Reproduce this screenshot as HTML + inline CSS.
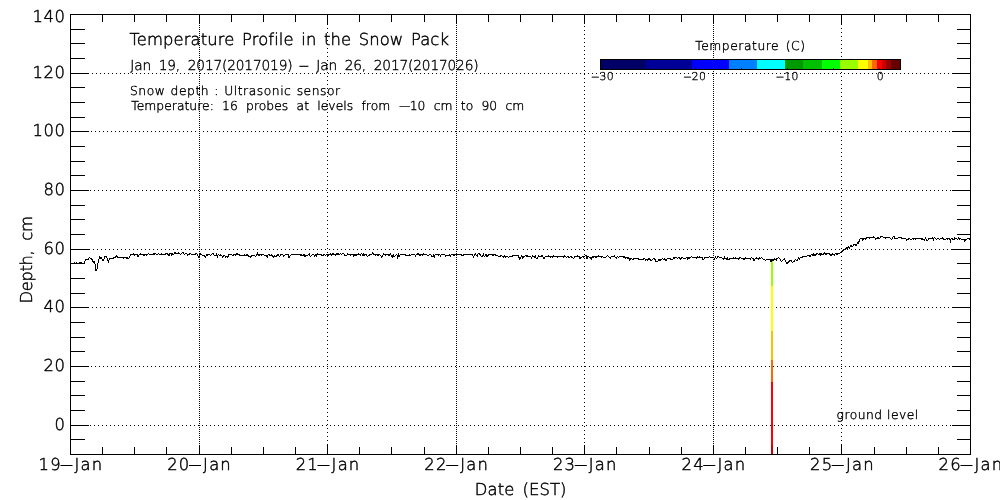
<!DOCTYPE html>
<html lang="en"><head><meta charset="utf-8"><title>Temperature Profile in the Snow Pack</title>
<style>
html,body{margin:0;padding:0;background:#fff}
body{width:1000px;height:500px;position:relative;overflow:hidden}
svg{position:absolute;left:0;top:0;display:block}
text{font-family:"DejaVu Sans Light","DejaVu Sans ExtraLight","DejaVu Sans","Liberation Sans",sans-serif;font-weight:200;
fill:#000;stroke:#000;stroke-width:0.45px;white-space:pre;text-rendering:geometricPrecision}
</style></head><body>
<svg width="1000" height="500" viewBox="0 0 1000 500">
<g shape-rendering="crispEdges">
<rect x="70" y="14" width="901" height="1" fill="#000"/>
<rect x="70" y="454" width="901" height="1" fill="#000"/>
<rect x="70" y="14" width="1" height="441" fill="#000"/>
<rect x="970" y="14" width="1" height="441" fill="#000"/>
<rect x="70" y="454" width="15" height="1" fill="#000"/>
<rect x="957" y="454" width="14" height="1" fill="#000"/>
<rect x="70" y="439" width="15" height="1" fill="#000"/>
<rect x="957" y="439" width="14" height="1" fill="#000"/>
<rect x="70" y="425" width="19" height="1" fill="#000"/>
<rect x="952" y="425" width="19" height="1" fill="#000"/>
<rect x="70" y="410" width="15" height="1" fill="#000"/>
<rect x="957" y="410" width="14" height="1" fill="#000"/>
<rect x="70" y="395" width="15" height="1" fill="#000"/>
<rect x="957" y="395" width="14" height="1" fill="#000"/>
<rect x="70" y="381" width="15" height="1" fill="#000"/>
<rect x="957" y="381" width="14" height="1" fill="#000"/>
<rect x="70" y="366" width="19" height="1" fill="#000"/>
<rect x="952" y="366" width="19" height="1" fill="#000"/>
<rect x="70" y="351" width="15" height="1" fill="#000"/>
<rect x="957" y="351" width="14" height="1" fill="#000"/>
<rect x="70" y="337" width="15" height="1" fill="#000"/>
<rect x="957" y="337" width="14" height="1" fill="#000"/>
<rect x="70" y="322" width="15" height="1" fill="#000"/>
<rect x="957" y="322" width="14" height="1" fill="#000"/>
<rect x="70" y="307" width="19" height="1" fill="#000"/>
<rect x="952" y="307" width="19" height="1" fill="#000"/>
<rect x="70" y="293" width="15" height="1" fill="#000"/>
<rect x="957" y="293" width="14" height="1" fill="#000"/>
<rect x="70" y="278" width="15" height="1" fill="#000"/>
<rect x="957" y="278" width="14" height="1" fill="#000"/>
<rect x="70" y="263" width="15" height="1" fill="#000"/>
<rect x="957" y="263" width="14" height="1" fill="#000"/>
<rect x="70" y="249" width="19" height="1" fill="#000"/>
<rect x="952" y="249" width="19" height="1" fill="#000"/>
<rect x="70" y="234" width="15" height="1" fill="#000"/>
<rect x="957" y="234" width="14" height="1" fill="#000"/>
<rect x="70" y="219" width="15" height="1" fill="#000"/>
<rect x="957" y="219" width="14" height="1" fill="#000"/>
<rect x="70" y="205" width="15" height="1" fill="#000"/>
<rect x="957" y="205" width="14" height="1" fill="#000"/>
<rect x="70" y="190" width="19" height="1" fill="#000"/>
<rect x="952" y="190" width="19" height="1" fill="#000"/>
<rect x="70" y="175" width="15" height="1" fill="#000"/>
<rect x="957" y="175" width="14" height="1" fill="#000"/>
<rect x="70" y="161" width="15" height="1" fill="#000"/>
<rect x="957" y="161" width="14" height="1" fill="#000"/>
<rect x="70" y="146" width="15" height="1" fill="#000"/>
<rect x="957" y="146" width="14" height="1" fill="#000"/>
<rect x="70" y="131" width="19" height="1" fill="#000"/>
<rect x="952" y="131" width="19" height="1" fill="#000"/>
<rect x="70" y="117" width="15" height="1" fill="#000"/>
<rect x="957" y="117" width="14" height="1" fill="#000"/>
<rect x="70" y="102" width="15" height="1" fill="#000"/>
<rect x="957" y="102" width="14" height="1" fill="#000"/>
<rect x="70" y="87" width="15" height="1" fill="#000"/>
<rect x="957" y="87" width="14" height="1" fill="#000"/>
<rect x="70" y="73" width="19" height="1" fill="#000"/>
<rect x="952" y="73" width="19" height="1" fill="#000"/>
<rect x="70" y="58" width="15" height="1" fill="#000"/>
<rect x="957" y="58" width="14" height="1" fill="#000"/>
<rect x="70" y="43" width="15" height="1" fill="#000"/>
<rect x="957" y="43" width="14" height="1" fill="#000"/>
<rect x="70" y="29" width="15" height="1" fill="#000"/>
<rect x="957" y="29" width="14" height="1" fill="#000"/>
<rect x="70" y="14" width="19" height="1" fill="#000"/>
<rect x="952" y="14" width="19" height="1" fill="#000"/>
<rect x="70" y="445" width="1" height="10" fill="#000"/>
<rect x="70" y="14" width="1" height="10" fill="#000"/>
<rect x="102" y="447" width="1" height="8" fill="#000"/>
<rect x="102" y="14" width="1" height="8" fill="#000"/>
<rect x="134" y="447" width="1" height="8" fill="#000"/>
<rect x="134" y="14" width="1" height="8" fill="#000"/>
<rect x="166" y="447" width="1" height="8" fill="#000"/>
<rect x="166" y="14" width="1" height="8" fill="#000"/>
<rect x="199" y="445" width="1" height="10" fill="#000"/>
<rect x="199" y="14" width="1" height="10" fill="#000"/>
<rect x="231" y="447" width="1" height="8" fill="#000"/>
<rect x="231" y="14" width="1" height="8" fill="#000"/>
<rect x="263" y="447" width="1" height="8" fill="#000"/>
<rect x="263" y="14" width="1" height="8" fill="#000"/>
<rect x="295" y="447" width="1" height="8" fill="#000"/>
<rect x="295" y="14" width="1" height="8" fill="#000"/>
<rect x="327" y="445" width="1" height="10" fill="#000"/>
<rect x="327" y="14" width="1" height="10" fill="#000"/>
<rect x="359" y="447" width="1" height="8" fill="#000"/>
<rect x="359" y="14" width="1" height="8" fill="#000"/>
<rect x="391" y="447" width="1" height="8" fill="#000"/>
<rect x="391" y="14" width="1" height="8" fill="#000"/>
<rect x="424" y="447" width="1" height="8" fill="#000"/>
<rect x="424" y="14" width="1" height="8" fill="#000"/>
<rect x="456" y="445" width="1" height="10" fill="#000"/>
<rect x="456" y="14" width="1" height="10" fill="#000"/>
<rect x="488" y="447" width="1" height="8" fill="#000"/>
<rect x="488" y="14" width="1" height="8" fill="#000"/>
<rect x="520" y="447" width="1" height="8" fill="#000"/>
<rect x="520" y="14" width="1" height="8" fill="#000"/>
<rect x="552" y="447" width="1" height="8" fill="#000"/>
<rect x="552" y="14" width="1" height="8" fill="#000"/>
<rect x="584" y="445" width="1" height="10" fill="#000"/>
<rect x="584" y="14" width="1" height="10" fill="#000"/>
<rect x="616" y="447" width="1" height="8" fill="#000"/>
<rect x="616" y="14" width="1" height="8" fill="#000"/>
<rect x="649" y="447" width="1" height="8" fill="#000"/>
<rect x="649" y="14" width="1" height="8" fill="#000"/>
<rect x="681" y="447" width="1" height="8" fill="#000"/>
<rect x="681" y="14" width="1" height="8" fill="#000"/>
<rect x="713" y="445" width="1" height="10" fill="#000"/>
<rect x="713" y="14" width="1" height="10" fill="#000"/>
<rect x="745" y="447" width="1" height="8" fill="#000"/>
<rect x="745" y="14" width="1" height="8" fill="#000"/>
<rect x="777" y="447" width="1" height="8" fill="#000"/>
<rect x="777" y="14" width="1" height="8" fill="#000"/>
<rect x="809" y="447" width="1" height="8" fill="#000"/>
<rect x="809" y="14" width="1" height="8" fill="#000"/>
<rect x="841" y="445" width="1" height="10" fill="#000"/>
<rect x="841" y="14" width="1" height="10" fill="#000"/>
<rect x="874" y="447" width="1" height="8" fill="#000"/>
<rect x="874" y="14" width="1" height="8" fill="#000"/>
<rect x="906" y="447" width="1" height="8" fill="#000"/>
<rect x="906" y="14" width="1" height="8" fill="#000"/>
<rect x="938" y="447" width="1" height="8" fill="#000"/>
<rect x="938" y="14" width="1" height="8" fill="#000"/>
<rect x="970" y="445" width="1" height="10" fill="#000"/>
<rect x="970" y="14" width="1" height="10" fill="#000"/>
<path d="M90 425h1M94 425h1M98 425h1M102 425h1M106 425h1M110 425h1M114 425h1M118 425h1M122 425h1M126 425h1M130 425h1M134 425h1M138 425h1M142 425h1M146 425h1M150 425h1M154 425h1M158 425h1M162 425h1M166 425h1M170 425h1M174 425h1M178 425h1M182 425h1M186 425h1M190 425h1M194 425h1M198 425h1M202 425h1M206 425h1M210 425h1M214 425h1M218 425h1M222 425h1M226 425h1M230 425h1M234 425h1M238 425h1M242 425h1M246 425h1M250 425h1M254 425h1M258 425h1M262 425h1M266 425h1M270 425h1M274 425h1M278 425h1M282 425h1M286 425h1M290 425h1M294 425h1M298 425h1M302 425h1M306 425h1M310 425h1M314 425h1M318 425h1M322 425h1M326 425h1M330 425h1M334 425h1M338 425h1M342 425h1M346 425h1M350 425h1M354 425h1M358 425h1M362 425h1M366 425h1M370 425h1M374 425h1M378 425h1M382 425h1M386 425h1M390 425h1M394 425h1M398 425h1M402 425h1M406 425h1M410 425h1M414 425h1M418 425h1M422 425h1M426 425h1M430 425h1M434 425h1M438 425h1M442 425h1M446 425h1M450 425h1M454 425h1M458 425h1M462 425h1M466 425h1M470 425h1M474 425h1M478 425h1M482 425h1M486 425h1M490 425h1M494 425h1M498 425h1M502 425h1M506 425h1M510 425h1M514 425h1M518 425h1M522 425h1M526 425h1M530 425h1M534 425h1M538 425h1M542 425h1M546 425h1M550 425h1M554 425h1M558 425h1M562 425h1M566 425h1M570 425h1M574 425h1M578 425h1M582 425h1M586 425h1M590 425h1M594 425h1M598 425h1M602 425h1M606 425h1M610 425h1M614 425h1M618 425h1M622 425h1M626 425h1M630 425h1M634 425h1M638 425h1M642 425h1M646 425h1M650 425h1M654 425h1M658 425h1M662 425h1M666 425h1M670 425h1M674 425h1M678 425h1M682 425h1M686 425h1M690 425h1M694 425h1M698 425h1M702 425h1M706 425h1M710 425h1M714 425h1M718 425h1M722 425h1M726 425h1M730 425h1M734 425h1M738 425h1M742 425h1M746 425h1M750 425h1M754 425h1M758 425h1M762 425h1M766 425h1M770 425h1M774 425h1M778 425h1M782 425h1M786 425h1M790 425h1M794 425h1M798 425h1M802 425h1M806 425h1M810 425h1M814 425h1M818 425h1M822 425h1M826 425h1M830 425h1M834 425h1M838 425h1M842 425h1M846 425h1M850 425h1M854 425h1M858 425h1M862 425h1M866 425h1M870 425h1M874 425h1M878 425h1M882 425h1M886 425h1M890 425h1M894 425h1M898 425h1M902 425h1M906 425h1M910 425h1M914 425h1M918 425h1M922 425h1M926 425h1M930 425h1M934 425h1M938 425h1M942 425h1M946 425h1M950 425h1M91 366h1M95 366h1M99 366h1M103 366h1M107 366h1M111 366h1M115 366h1M119 366h1M123 366h1M127 366h1M131 366h1M135 366h1M139 366h1M143 366h1M147 366h1M151 366h1M155 366h1M159 366h1M163 366h1M167 366h1M171 366h1M175 366h1M179 366h1M183 366h1M187 366h1M191 366h1M195 366h1M199 366h1M203 366h1M207 366h1M211 366h1M215 366h1M219 366h1M223 366h1M227 366h1M231 366h1M235 366h1M239 366h1M243 366h1M247 366h1M251 366h1M255 366h1M259 366h1M263 366h1M267 366h1M271 366h1M275 366h1M279 366h1M283 366h1M287 366h1M291 366h1M295 366h1M299 366h1M303 366h1M307 366h1M311 366h1M315 366h1M319 366h1M323 366h1M327 366h1M331 366h1M335 366h1M339 366h1M343 366h1M347 366h1M351 366h1M355 366h1M359 366h1M363 366h1M367 366h1M371 366h1M375 366h1M379 366h1M383 366h1M387 366h1M391 366h1M395 366h1M399 366h1M403 366h1M407 366h1M411 366h1M415 366h1M419 366h1M423 366h1M427 366h1M431 366h1M435 366h1M439 366h1M443 366h1M447 366h1M451 366h1M455 366h1M459 366h1M463 366h1M467 366h1M471 366h1M475 366h1M479 366h1M483 366h1M487 366h1M491 366h1M495 366h1M499 366h1M503 366h1M507 366h1M511 366h1M515 366h1M519 366h1M521 366h1M525 366h1M529 366h1M533 366h1M537 366h1M541 366h1M545 366h1M549 366h1M553 366h1M557 366h1M561 366h1M565 366h1M569 366h1M573 366h1M577 366h1M581 366h1M585 366h1M589 366h1M593 366h1M597 366h1M601 366h1M605 366h1M609 366h1M613 366h1M617 366h1M621 366h1M625 366h1M629 366h1M633 366h1M637 366h1M641 366h1M645 366h1M649 366h1M653 366h1M657 366h1M661 366h1M665 366h1M669 366h1M673 366h1M677 366h1M681 366h1M685 366h1M689 366h1M693 366h1M697 366h1M701 366h1M705 366h1M709 366h1M713 366h1M717 366h1M721 366h1M725 366h1M729 366h1M733 366h1M737 366h1M741 366h1M745 366h1M749 366h1M753 366h1M757 366h1M761 366h1M765 366h1M769 366h1M773 366h1M777 366h1M781 366h1M785 366h1M789 366h1M793 366h1M797 366h1M801 366h1M805 366h1M809 366h1M813 366h1M817 366h1M821 366h1M825 366h1M829 366h1M833 366h1M837 366h1M841 366h1M845 366h1M849 366h1M853 366h1M857 366h1M861 366h1M865 366h1M869 366h1M873 366h1M877 366h1M881 366h1M885 366h1M889 366h1M893 366h1M897 366h1M901 366h1M905 366h1M909 366h1M913 366h1M917 366h1M921 366h1M925 366h1M929 366h1M933 366h1M937 366h1M941 366h1M945 366h1M949 366h1M92 307h1M96 307h1M100 307h1M104 307h1M108 307h1M112 307h1M116 307h1M120 307h1M124 307h1M128 307h1M132 307h1M136 307h1M140 307h1M144 307h1M148 307h1M152 307h1M156 307h1M160 307h1M164 307h1M168 307h1M172 307h1M176 307h1M180 307h1M184 307h1M188 307h1M192 307h1M196 307h1M200 307h1M204 307h1M208 307h1M212 307h1M216 307h1M220 307h1M224 307h1M228 307h1M232 307h1M236 307h1M240 307h1M244 307h1M248 307h1M252 307h1M256 307h1M260 307h1M264 307h1M268 307h1M272 307h1M276 307h1M280 307h1M284 307h1M288 307h1M292 307h1M296 307h1M300 307h1M304 307h1M308 307h1M312 307h1M316 307h1M320 307h1M324 307h1M328 307h1M332 307h1M336 307h1M340 307h1M344 307h1M348 307h1M352 307h1M356 307h1M360 307h1M364 307h1M368 307h1M372 307h1M376 307h1M380 307h1M384 307h1M388 307h1M392 307h1M396 307h1M400 307h1M404 307h1M408 307h1M412 307h1M416 307h1M420 307h1M424 307h1M428 307h1M432 307h1M436 307h1M440 307h1M444 307h1M448 307h1M452 307h1M456 307h1M460 307h1M464 307h1M468 307h1M472 307h1M476 307h1M480 307h1M484 307h1M488 307h1M492 307h1M496 307h1M500 307h1M504 307h1M508 307h1M512 307h1M516 307h1M520 307h1M524 307h1M528 307h1M532 307h1M536 307h1M540 307h1M544 307h1M548 307h1M552 307h1M556 307h1M560 307h1M564 307h1M568 307h1M572 307h1M576 307h1M580 307h1M584 307h1M588 307h1M592 307h1M596 307h1M600 307h1M604 307h1M608 307h1M612 307h1M616 307h1M620 307h1M624 307h1M628 307h1M632 307h1M636 307h1M640 307h1M644 307h1M648 307h1M652 307h1M656 307h1M660 307h1M664 307h1M668 307h1M672 307h1M676 307h1M680 307h1M684 307h1M688 307h1M692 307h1M696 307h1M700 307h1M704 307h1M708 307h1M712 307h1M716 307h1M720 307h1M724 307h1M728 307h1M732 307h1M736 307h1M740 307h1M744 307h1M748 307h1M752 307h1M756 307h1M760 307h1M764 307h1M768 307h1M772 307h1M776 307h1M780 307h1M784 307h1M788 307h1M792 307h1M796 307h1M800 307h1M804 307h1M808 307h1M812 307h1M816 307h1M820 307h1M824 307h1M828 307h1M832 307h1M836 307h1M840 307h1M844 307h1M848 307h1M852 307h1M856 307h1M860 307h1M864 307h1M868 307h1M872 307h1M876 307h1M880 307h1M884 307h1M888 307h1M892 307h1M896 307h1M900 307h1M904 307h1M908 307h1M912 307h1M916 307h1M920 307h1M924 307h1M928 307h1M932 307h1M936 307h1M940 307h1M944 307h1M948 307h1M93 249h1M97 249h1M101 249h1M105 249h1M109 249h1M113 249h1M117 249h1M121 249h1M125 249h1M129 249h1M133 249h1M137 249h1M141 249h1M145 249h1M149 249h1M153 249h1M157 249h1M161 249h1M165 249h1M169 249h1M173 249h1M177 249h1M181 249h1M185 249h1M189 249h1M193 249h1M197 249h1M201 249h1M205 249h1M209 249h1M213 249h1M217 249h1M221 249h1M225 249h1M229 249h1M233 249h1M237 249h1M241 249h1M245 249h1M249 249h1M253 249h1M257 249h1M261 249h1M265 249h1M269 249h1M273 249h1M277 249h1M281 249h1M285 249h1M289 249h1M293 249h1M297 249h1M301 249h1M305 249h1M309 249h1M313 249h1M317 249h1M321 249h1M325 249h1M329 249h1M333 249h1M337 249h1M341 249h1M345 249h1M349 249h1M353 249h1M357 249h1M361 249h1M365 249h1M369 249h1M373 249h1M377 249h1M381 249h1M385 249h1M389 249h1M393 249h1M397 249h1M401 249h1M405 249h1M409 249h1M413 249h1M417 249h1M421 249h1M425 249h1M429 249h1M433 249h1M437 249h1M441 249h1M445 249h1M449 249h1M453 249h1M457 249h1M461 249h1M465 249h1M469 249h1M473 249h1M477 249h1M481 249h1M485 249h1M489 249h1M493 249h1M497 249h1M501 249h1M505 249h1M509 249h1M513 249h1M517 249h1M523 249h1M527 249h1M531 249h1M535 249h1M539 249h1M543 249h1M547 249h1M551 249h1M555 249h1M559 249h1M563 249h1M567 249h1M571 249h1M575 249h1M579 249h1M583 249h1M587 249h1M591 249h1M595 249h1M599 249h1M603 249h1M607 249h1M611 249h1M615 249h1M619 249h1M623 249h1M627 249h1M631 249h1M635 249h1M639 249h1M643 249h1M647 249h1M651 249h1M655 249h1M659 249h1M663 249h1M667 249h1M671 249h1M675 249h1M679 249h1M683 249h1M687 249h1M691 249h1M695 249h1M699 249h1M703 249h1M707 249h1M711 249h1M715 249h1M719 249h1M723 249h1M727 249h1M731 249h1M735 249h1M739 249h1M743 249h1M747 249h1M751 249h1M755 249h1M759 249h1M763 249h1M767 249h1M771 249h1M775 249h1M779 249h1M783 249h1M787 249h1M791 249h1M795 249h1M799 249h1M803 249h1M807 249h1M811 249h1M815 249h1M819 249h1M823 249h1M827 249h1M831 249h1M835 249h1M839 249h1M843 249h1M847 249h1M851 249h1M855 249h1M859 249h1M863 249h1M867 249h1M871 249h1M875 249h1M879 249h1M883 249h1M887 249h1M891 249h1M895 249h1M899 249h1M903 249h1M907 249h1M911 249h1M915 249h1M919 249h1M923 249h1M927 249h1M931 249h1M935 249h1M939 249h1M943 249h1M947 249h1M89 249h1M951 249h1M90 190h1M94 190h1M98 190h1M102 190h1M106 190h1M110 190h1M114 190h1M118 190h1M122 190h1M126 190h1M130 190h1M134 190h1M138 190h1M142 190h1M146 190h1M150 190h1M154 190h1M158 190h1M162 190h1M166 190h1M170 190h1M174 190h1M178 190h1M182 190h1M186 190h1M190 190h1M194 190h1M198 190h1M202 190h1M206 190h1M210 190h1M214 190h1M218 190h1M222 190h1M226 190h1M230 190h1M234 190h1M238 190h1M242 190h1M246 190h1M250 190h1M254 190h1M258 190h1M262 190h1M266 190h1M270 190h1M274 190h1M278 190h1M282 190h1M286 190h1M290 190h1M294 190h1M298 190h1M302 190h1M306 190h1M310 190h1M314 190h1M318 190h1M322 190h1M326 190h1M330 190h1M334 190h1M338 190h1M342 190h1M346 190h1M350 190h1M354 190h1M358 190h1M362 190h1M366 190h1M370 190h1M374 190h1M378 190h1M382 190h1M386 190h1M390 190h1M394 190h1M398 190h1M402 190h1M406 190h1M410 190h1M414 190h1M418 190h1M422 190h1M426 190h1M430 190h1M434 190h1M438 190h1M442 190h1M446 190h1M450 190h1M454 190h1M458 190h1M462 190h1M466 190h1M470 190h1M474 190h1M478 190h1M482 190h1M486 190h1M490 190h1M494 190h1M498 190h1M502 190h1M506 190h1M510 190h1M514 190h1M518 190h1M522 190h1M526 190h1M530 190h1M534 190h1M538 190h1M542 190h1M546 190h1M550 190h1M554 190h1M558 190h1M562 190h1M566 190h1M570 190h1M574 190h1M578 190h1M582 190h1M586 190h1M590 190h1M594 190h1M598 190h1M602 190h1M606 190h1M610 190h1M614 190h1M618 190h1M622 190h1M626 190h1M630 190h1M634 190h1M638 190h1M642 190h1M646 190h1M650 190h1M654 190h1M658 190h1M662 190h1M666 190h1M670 190h1M674 190h1M678 190h1M682 190h1M686 190h1M690 190h1M694 190h1M698 190h1M702 190h1M706 190h1M710 190h1M714 190h1M718 190h1M722 190h1M726 190h1M730 190h1M734 190h1M738 190h1M742 190h1M746 190h1M750 190h1M754 190h1M758 190h1M762 190h1M766 190h1M770 190h1M774 190h1M778 190h1M782 190h1M786 190h1M790 190h1M794 190h1M798 190h1M802 190h1M806 190h1M810 190h1M814 190h1M818 190h1M822 190h1M826 190h1M830 190h1M834 190h1M838 190h1M842 190h1M846 190h1M850 190h1M854 190h1M858 190h1M862 190h1M866 190h1M870 190h1M874 190h1M878 190h1M882 190h1M886 190h1M890 190h1M894 190h1M898 190h1M902 190h1M906 190h1M910 190h1M914 190h1M918 190h1M922 190h1M926 190h1M930 190h1M934 190h1M938 190h1M942 190h1M946 190h1M950 190h1M91 131h1M95 131h1M99 131h1M103 131h1M107 131h1M111 131h1M115 131h1M119 131h1M123 131h1M127 131h1M131 131h1M135 131h1M139 131h1M143 131h1M147 131h1M151 131h1M155 131h1M159 131h1M163 131h1M167 131h1M171 131h1M175 131h1M179 131h1M183 131h1M187 131h1M191 131h1M195 131h1M199 131h1M203 131h1M207 131h1M211 131h1M215 131h1M219 131h1M223 131h1M227 131h1M231 131h1M235 131h1M239 131h1M243 131h1M247 131h1M251 131h1M255 131h1M259 131h1M263 131h1M267 131h1M271 131h1M275 131h1M279 131h1M283 131h1M287 131h1M291 131h1M295 131h1M299 131h1M303 131h1M307 131h1M311 131h1M315 131h1M319 131h1M323 131h1M327 131h1M331 131h1M335 131h1M339 131h1M343 131h1M347 131h1M351 131h1M355 131h1M359 131h1M363 131h1M367 131h1M371 131h1M375 131h1M379 131h1M383 131h1M387 131h1M391 131h1M395 131h1M399 131h1M403 131h1M407 131h1M411 131h1M415 131h1M419 131h1M423 131h1M427 131h1M431 131h1M435 131h1M439 131h1M443 131h1M447 131h1M451 131h1M455 131h1M459 131h1M463 131h1M467 131h1M471 131h1M475 131h1M479 131h1M483 131h1M487 131h1M491 131h1M495 131h1M499 131h1M503 131h1M507 131h1M511 131h1M515 131h1M519 131h1M521 131h1M525 131h1M529 131h1M533 131h1M537 131h1M541 131h1M545 131h1M549 131h1M553 131h1M557 131h1M561 131h1M565 131h1M569 131h1M573 131h1M577 131h1M581 131h1M585 131h1M589 131h1M593 131h1M597 131h1M601 131h1M605 131h1M609 131h1M613 131h1M617 131h1M621 131h1M625 131h1M629 131h1M633 131h1M637 131h1M641 131h1M645 131h1M649 131h1M653 131h1M657 131h1M661 131h1M665 131h1M669 131h1M673 131h1M677 131h1M681 131h1M685 131h1M689 131h1M693 131h1M697 131h1M701 131h1M705 131h1M709 131h1M713 131h1M717 131h1M721 131h1M725 131h1M729 131h1M733 131h1M737 131h1M741 131h1M745 131h1M749 131h1M753 131h1M757 131h1M761 131h1M765 131h1M769 131h1M773 131h1M777 131h1M781 131h1M785 131h1M789 131h1M793 131h1M797 131h1M801 131h1M805 131h1M809 131h1M813 131h1M817 131h1M821 131h1M825 131h1M829 131h1M833 131h1M837 131h1M841 131h1M845 131h1M849 131h1M853 131h1M857 131h1M861 131h1M865 131h1M869 131h1M873 131h1M877 131h1M881 131h1M885 131h1M889 131h1M893 131h1M897 131h1M901 131h1M905 131h1M909 131h1M913 131h1M917 131h1M921 131h1M925 131h1M929 131h1M933 131h1M937 131h1M941 131h1M945 131h1M949 131h1M92 73h1M96 73h1M100 73h1M104 73h1M108 73h1M112 73h1M116 73h1M120 73h1M124 73h1M128 73h1M132 73h1M136 73h1M140 73h1M144 73h1M148 73h1M152 73h1M156 73h1M160 73h1M164 73h1M168 73h1M172 73h1M176 73h1M180 73h1M184 73h1M188 73h1M192 73h1M196 73h1M200 73h1M204 73h1M208 73h1M212 73h1M216 73h1M220 73h1M224 73h1M228 73h1M232 73h1M236 73h1M240 73h1M244 73h1M248 73h1M252 73h1M256 73h1M260 73h1M264 73h1M268 73h1M272 73h1M276 73h1M280 73h1M284 73h1M288 73h1M292 73h1M296 73h1M300 73h1M304 73h1M308 73h1M312 73h1M316 73h1M320 73h1M324 73h1M328 73h1M332 73h1M336 73h1M340 73h1M344 73h1M348 73h1M352 73h1M356 73h1M360 73h1M364 73h1M368 73h1M372 73h1M376 73h1M380 73h1M384 73h1M388 73h1M392 73h1M396 73h1M400 73h1M404 73h1M408 73h1M412 73h1M416 73h1M420 73h1M424 73h1M428 73h1M432 73h1M436 73h1M440 73h1M444 73h1M448 73h1M452 73h1M456 73h1M460 73h1M464 73h1M468 73h1M472 73h1M476 73h1M480 73h1M484 73h1M488 73h1M492 73h1M496 73h1M500 73h1M504 73h1M508 73h1M512 73h1M516 73h1M520 73h1M524 73h1M528 73h1M532 73h1M536 73h1M540 73h1M544 73h1M548 73h1M552 73h1M556 73h1M560 73h1M564 73h1M568 73h1M572 73h1M576 73h1M580 73h1M584 73h1M588 73h1M592 73h1M596 73h1M600 73h1M604 73h1M608 73h1M612 73h1M616 73h1M620 73h1M624 73h1M628 73h1M632 73h1M636 73h1M640 73h1M644 73h1M648 73h1M652 73h1M656 73h1M660 73h1M664 73h1M668 73h1M672 73h1M676 73h1M680 73h1M684 73h1M688 73h1M692 73h1M696 73h1M700 73h1M704 73h1M708 73h1M712 73h1M716 73h1M720 73h1M724 73h1M728 73h1M732 73h1M736 73h1M740 73h1M744 73h1M748 73h1M752 73h1M756 73h1M760 73h1M764 73h1M768 73h1M772 73h1M776 73h1M780 73h1M784 73h1M788 73h1M792 73h1M796 73h1M800 73h1M804 73h1M808 73h1M812 73h1M816 73h1M820 73h1M824 73h1M828 73h1M832 73h1M836 73h1M840 73h1M844 73h1M848 73h1M852 73h1M856 73h1M860 73h1M864 73h1M868 73h1M872 73h1M876 73h1M880 73h1M884 73h1M888 73h1M892 73h1M896 73h1M900 73h1M904 73h1M908 73h1M912 73h1M916 73h1M920 73h1M924 73h1M928 73h1M932 73h1M936 73h1M940 73h1M944 73h1M948 73h1M199 25h1M199 27h1M199 29h1M199 31h1M199 33h1M199 35h1M199 37h1M199 39h1M199 41h1M199 43h1M199 45h1M199 47h1M199 49h1M199 51h1M199 53h1M199 55h1M199 57h1M199 59h1M199 61h1M199 63h1M199 65h1M199 67h1M199 69h1M199 71h1M199 73h1M199 75h1M199 77h1M199 79h1M199 81h1M199 83h1M199 85h1M199 87h1M199 89h1M199 91h1M199 93h1M199 95h1M199 97h1M199 99h1M199 101h1M199 103h1M199 105h1M199 107h1M199 109h1M199 111h1M199 113h1M199 115h1M199 117h1M199 119h1M199 121h1M199 123h1M199 125h1M199 127h1M199 129h1M199 131h1M199 133h1M199 135h1M199 137h1M199 139h1M199 141h1M199 143h1M199 145h1M199 147h1M199 149h1M199 151h1M199 153h1M199 155h1M199 157h1M199 159h1M199 161h1M199 163h1M199 165h1M199 167h1M199 169h1M199 171h1M199 173h1M199 175h1M199 177h1M199 179h1M199 181h1M199 183h1M199 185h1M199 187h1M199 189h1M199 191h1M199 193h1M199 195h1M199 197h1M199 199h1M199 201h1M199 203h1M199 205h1M199 207h1M199 209h1M199 211h1M199 213h1M199 215h1M199 217h1M199 219h1M199 221h1M199 223h1M199 225h1M199 227h1M199 229h1M199 231h1M199 233h1M199 235h1M199 237h1M199 239h1M199 241h1M199 243h1M199 245h1M199 247h1M199 249h1M199 251h1M199 253h1M199 255h1M199 257h1M199 259h1M199 261h1M199 263h1M199 265h1M199 267h1M199 269h1M199 271h1M199 273h1M199 275h1M199 277h1M199 279h1M199 281h1M199 283h1M199 285h1M199 287h1M199 289h1M199 291h1M199 293h1M199 295h1M199 297h1M199 299h1M199 301h1M199 303h1M199 305h1M199 307h1M199 309h1M199 311h1M199 313h1M199 315h1M199 317h1M199 319h1M199 321h1M199 323h1M199 325h1M199 327h1M199 329h1M199 331h1M199 333h1M199 335h1M199 337h1M199 339h1M199 341h1M199 343h1M199 345h1M199 347h1M199 349h1M199 351h1M199 353h1M199 355h1M199 357h1M199 359h1M199 361h1M199 363h1M199 365h1M199 367h1M199 369h1M199 371h1M199 373h1M199 375h1M199 377h1M199 379h1M199 381h1M199 383h1M199 385h1M199 387h1M199 389h1M199 391h1M199 393h1M199 395h1M199 397h1M199 399h1M199 401h1M199 403h1M199 405h1M199 407h1M199 409h1M199 411h1M199 413h1M199 415h1M199 417h1M199 419h1M199 421h1M199 423h1M199 425h1M199 427h1M199 429h1M199 431h1M199 433h1M199 435h1M199 437h1M199 439h1M199 441h1M199 443h1M327 24h1M327 28h1M327 32h1M327 36h1M327 40h1M327 44h1M327 48h1M327 52h1M327 56h1M327 60h1M327 64h1M327 68h1M327 72h1M327 76h1M327 80h1M327 84h1M327 88h1M327 92h1M327 96h1M327 100h1M327 104h1M327 108h1M327 112h1M327 116h1M327 120h1M327 124h1M327 128h1M327 132h1M327 136h1M327 140h1M327 144h1M327 148h1M327 152h1M327 156h1M327 160h1M327 164h1M327 168h1M327 172h1M327 176h1M327 180h1M327 184h1M327 188h1M327 192h1M327 196h1M327 200h1M327 204h1M327 208h1M327 212h1M327 216h1M327 220h1M327 224h1M327 228h1M327 232h1M327 236h1M327 240h1M327 244h1M327 248h1M327 252h1M327 256h1M327 260h1M327 264h1M327 268h1M327 272h1M327 276h1M327 280h1M327 284h1M327 288h1M327 292h1M327 296h1M327 300h1M327 304h1M327 308h1M327 312h1M327 316h1M327 320h1M327 324h1M327 328h1M327 332h1M327 336h1M327 340h1M327 344h1M327 348h1M327 352h1M327 356h1M327 360h1M327 364h1M327 368h1M327 372h1M327 376h1M327 380h1M327 384h1M327 388h1M327 392h1M327 396h1M327 400h1M327 404h1M327 408h1M327 412h1M327 416h1M327 420h1M327 424h1M327 428h1M327 432h1M327 436h1M327 440h1M327 444h1M456 25h1M456 27h1M456 29h1M456 31h1M456 33h1M456 35h1M456 37h1M456 39h1M456 41h1M456 43h1M456 45h1M456 47h1M456 49h1M456 51h1M456 53h1M456 55h1M456 57h1M456 59h1M456 61h1M456 63h1M456 65h1M456 67h1M456 69h1M456 71h1M456 73h1M456 75h1M456 77h1M456 79h1M456 81h1M456 83h1M456 85h1M456 87h1M456 89h1M456 91h1M456 93h1M456 95h1M456 97h1M456 99h1M456 101h1M456 103h1M456 105h1M456 107h1M456 109h1M456 111h1M456 113h1M456 115h1M456 117h1M456 119h1M456 121h1M456 123h1M456 125h1M456 127h1M456 129h1M456 131h1M456 133h1M456 135h1M456 137h1M456 139h1M456 141h1M456 143h1M456 145h1M456 147h1M456 149h1M456 151h1M456 153h1M456 155h1M456 157h1M456 159h1M456 161h1M456 163h1M456 165h1M456 167h1M456 169h1M456 171h1M456 173h1M456 175h1M456 177h1M456 179h1M456 181h1M456 183h1M456 185h1M456 187h1M456 189h1M456 191h1M456 193h1M456 195h1M456 197h1M456 199h1M456 201h1M456 203h1M456 205h1M456 207h1M456 209h1M456 211h1M456 213h1M456 215h1M456 217h1M456 219h1M456 221h1M456 223h1M456 225h1M456 227h1M456 229h1M456 231h1M456 233h1M456 235h1M456 237h1M456 239h1M456 241h1M456 243h1M456 245h1M456 247h1M456 249h1M456 251h1M456 253h1M456 255h1M456 257h1M456 259h1M456 261h1M456 263h1M456 265h1M456 267h1M456 269h1M456 271h1M456 273h1M456 275h1M456 277h1M456 279h1M456 281h1M456 283h1M456 285h1M456 287h1M456 289h1M456 291h1M456 293h1M456 295h1M456 297h1M456 299h1M456 301h1M456 303h1M456 305h1M456 307h1M456 309h1M456 311h1M456 313h1M456 315h1M456 317h1M456 319h1M456 321h1M456 323h1M456 325h1M456 327h1M456 329h1M456 331h1M456 333h1M456 335h1M456 337h1M456 339h1M456 341h1M456 343h1M456 345h1M456 347h1M456 349h1M456 351h1M456 353h1M456 355h1M456 357h1M456 359h1M456 361h1M456 363h1M456 365h1M456 367h1M456 369h1M456 371h1M456 373h1M456 375h1M456 377h1M456 379h1M456 381h1M456 383h1M456 385h1M456 387h1M456 389h1M456 391h1M456 393h1M456 395h1M456 397h1M456 399h1M456 401h1M456 403h1M456 405h1M456 407h1M456 409h1M456 411h1M456 413h1M456 415h1M456 417h1M456 419h1M456 421h1M456 423h1M456 425h1M456 427h1M456 429h1M456 431h1M456 433h1M456 435h1M456 437h1M456 439h1M456 441h1M456 443h1M584 26h1M584 30h1M584 34h1M584 38h1M584 42h1M584 46h1M584 50h1M584 54h1M584 58h1M584 62h1M584 66h1M584 70h1M584 74h1M584 78h1M584 82h1M584 86h1M584 90h1M584 94h1M584 98h1M584 102h1M584 106h1M584 110h1M584 114h1M584 118h1M584 122h1M584 126h1M584 130h1M584 134h1M584 138h1M584 142h1M584 146h1M584 150h1M584 154h1M584 158h1M584 162h1M584 166h1M584 170h1M584 174h1M584 178h1M584 182h1M584 186h1M584 190h1M584 194h1M584 198h1M584 202h1M584 206h1M584 210h1M584 214h1M584 218h1M584 222h1M584 226h1M584 230h1M584 234h1M584 238h1M584 242h1M584 246h1M584 250h1M584 254h1M584 258h1M584 262h1M584 266h1M584 270h1M584 274h1M584 278h1M584 282h1M584 286h1M584 290h1M584 294h1M584 298h1M584 302h1M584 306h1M584 310h1M584 314h1M584 318h1M584 322h1M584 326h1M584 330h1M584 334h1M584 338h1M584 342h1M584 346h1M584 350h1M584 354h1M584 358h1M584 362h1M584 366h1M584 370h1M584 374h1M584 378h1M584 382h1M584 386h1M584 390h1M584 394h1M584 398h1M584 402h1M584 406h1M584 410h1M584 414h1M584 418h1M584 422h1M584 426h1M584 430h1M584 434h1M584 438h1M584 442h1M713 25h1M713 27h1M713 29h1M713 31h1M713 33h1M713 35h1M713 37h1M713 39h1M713 41h1M713 43h1M713 45h1M713 47h1M713 49h1M713 51h1M713 53h1M713 55h1M713 57h1M713 59h1M713 61h1M713 63h1M713 65h1M713 67h1M713 69h1M713 71h1M713 73h1M713 75h1M713 77h1M713 79h1M713 81h1M713 83h1M713 85h1M713 87h1M713 89h1M713 91h1M713 93h1M713 95h1M713 97h1M713 99h1M713 101h1M713 103h1M713 105h1M713 107h1M713 109h1M713 111h1M713 113h1M713 115h1M713 117h1M713 119h1M713 121h1M713 123h1M713 125h1M713 127h1M713 129h1M713 131h1M713 133h1M713 135h1M713 137h1M713 139h1M713 141h1M713 143h1M713 145h1M713 147h1M713 149h1M713 151h1M713 153h1M713 155h1M713 157h1M713 159h1M713 161h1M713 163h1M713 165h1M713 167h1M713 169h1M713 171h1M713 173h1M713 175h1M713 177h1M713 179h1M713 181h1M713 183h1M713 185h1M713 187h1M713 189h1M713 191h1M713 193h1M713 195h1M713 197h1M713 199h1M713 201h1M713 203h1M713 205h1M713 207h1M713 209h1M713 211h1M713 213h1M713 215h1M713 217h1M713 219h1M713 221h1M713 223h1M713 225h1M713 227h1M713 229h1M713 231h1M713 233h1M713 235h1M713 237h1M713 239h1M713 241h1M713 243h1M713 245h1M713 247h1M713 249h1M713 251h1M713 253h1M713 255h1M713 257h1M713 259h1M713 261h1M713 263h1M713 265h1M713 267h1M713 269h1M713 271h1M713 273h1M713 275h1M713 277h1M713 279h1M713 281h1M713 283h1M713 285h1M713 287h1M713 289h1M713 291h1M713 293h1M713 295h1M713 297h1M713 299h1M713 301h1M713 303h1M713 305h1M713 307h1M713 309h1M713 311h1M713 313h1M713 315h1M713 317h1M713 319h1M713 321h1M713 323h1M713 325h1M713 327h1M713 329h1M713 331h1M713 333h1M713 335h1M713 337h1M713 339h1M713 341h1M713 343h1M713 345h1M713 347h1M713 349h1M713 351h1M713 353h1M713 355h1M713 357h1M713 359h1M713 361h1M713 363h1M713 365h1M713 367h1M713 369h1M713 371h1M713 373h1M713 375h1M713 377h1M713 379h1M713 381h1M713 383h1M713 385h1M713 387h1M713 389h1M713 391h1M713 393h1M713 395h1M713 397h1M713 399h1M713 401h1M713 403h1M713 405h1M713 407h1M713 409h1M713 411h1M713 413h1M713 415h1M713 417h1M713 419h1M713 421h1M713 423h1M713 425h1M713 427h1M713 429h1M713 431h1M713 433h1M713 435h1M713 437h1M713 439h1M713 441h1M713 443h1M841 24h1M841 28h1M841 32h1M841 36h1M841 40h1M841 44h1M841 48h1M841 52h1M841 56h1M841 60h1M841 64h1M841 68h1M841 72h1M841 76h1M841 80h1M841 84h1M841 88h1M841 92h1M841 96h1M841 100h1M841 104h1M841 108h1M841 112h1M841 116h1M841 120h1M841 124h1M841 128h1M841 132h1M841 136h1M841 140h1M841 144h1M841 148h1M841 152h1M841 156h1M841 160h1M841 164h1M841 168h1M841 172h1M841 176h1M841 180h1M841 184h1M841 188h1M841 192h1M841 196h1M841 200h1M841 204h1M841 208h1M841 212h1M841 216h1M841 220h1M841 224h1M841 228h1M841 232h1M841 236h1M841 240h1M841 244h1M841 248h1M841 252h1M841 256h1M841 260h1M841 264h1M841 268h1M841 272h1M841 276h1M841 280h1M841 284h1M841 288h1M841 292h1M841 296h1M841 300h1M841 304h1M841 308h1M841 312h1M841 316h1M841 320h1M841 324h1M841 328h1M841 332h1M841 336h1M841 340h1M841 344h1M841 348h1M841 352h1M841 356h1M841 360h1M841 364h1M841 368h1M841 372h1M841 376h1M841 380h1M841 384h1M841 388h1M841 392h1M841 396h1M841 400h1M841 404h1M841 408h1M841 412h1M841 416h1M841 420h1M841 424h1M841 428h1M841 432h1M841 436h1M841 440h1M841 444h1" stroke="#000" stroke-width="1" fill="none" transform="translate(0,0.5)"/>
<rect x="600" y="59" width="301" height="11" fill="#000"/>
<rect x="601" y="60" width="45" height="9" fill="#000066"/>
<rect x="646" y="60" width="46" height="9" fill="#000099"/>
<rect x="692" y="60" width="37" height="9" fill="#0000ff"/>
<rect x="729" y="60" width="28" height="9" fill="#0080ff"/>
<rect x="757" y="60" width="28" height="9" fill="#00ffff"/>
<rect x="785" y="60" width="18" height="9" fill="#009900"/>
<rect x="803" y="60" width="19" height="9" fill="#00c000"/>
<rect x="822" y="60" width="18" height="9" fill="#00ff00"/>
<rect x="840" y="60" width="18" height="9" fill="#99ff00"/>
<rect x="858" y="60" width="10" height="9" fill="#ffff00"/>
<rect x="868" y="60" width="4" height="9" fill="#ffc000"/>
<rect x="872" y="60" width="5" height="9" fill="#ff6600"/>
<rect x="877" y="60" width="5" height="9" fill="#ff0000"/>
<rect x="882" y="60" width="4" height="9" fill="#cc0000"/>
<rect x="886" y="60" width="5" height="9" fill="#990000"/>
<rect x="891" y="60" width="9" height="9" fill="#660000"/>
<rect x="602" y="68" width="1" height="1" fill="#000"/>
<rect x="648" y="68" width="1" height="1" fill="#000"/>
<rect x="695" y="68" width="1" height="1" fill="#000"/>
<rect x="741" y="68" width="1" height="1" fill="#000"/>
<rect x="787" y="68" width="1" height="1" fill="#000"/>
<rect x="833" y="68" width="1" height="1" fill="#000"/>
<rect x="879" y="68" width="1" height="1" fill="#000"/>
<rect x="771" y="259" width="2" height="27" fill="#99ff00"/>
<rect x="771" y="286" width="2" height="45" fill="#ffff00"/>
<rect x="771" y="331" width="2" height="29" fill="#ffc000"/>
<rect x="771" y="360" width="2" height="22" fill="#ff6600"/>
<rect x="771" y="382" width="2" height="63" fill="#ff0000"/>
<rect x="771" y="445" width="2" height="9" fill="#cc0000"/>
<path d="M70.0 262.8 L70.9 262.9 L71.8 263.1 L72.7 263.0 L73.6 263.1 L74.5 263.0 L75.4 263.4 L76.2 262.8 L77.1 263.5 L78.0 264.0 L78.9 263.1 L79.8 262.9 L80.7 262.8 L81.6 262.9 L82.5 263.1 L83.4 263.5 L84.3 262.4 L85.2 260.3 L86.1 259.2 L87.0 259.8 L87.9 259.7 L88.8 258.3 L89.6 257.7 L90.5 258.7 L91.4 258.4 L92.3 260.2 L93.2 262.6 L94.1 261.5 L95.0 264.0 L95.9 270.3 L96.8 270.4 L97.7 264.9 L98.6 260.4 L99.5 256.7 L100.4 258.5 L101.2 257.1 L102.1 258.9 L103.0 260.4 L103.9 259.4 L104.8 256.6 L105.7 256.5 L106.6 256.9 L107.5 258.9 L108.4 261.6 L109.3 259.1 L110.2 258.1 L111.1 258.3 L112.0 258.1 L112.9 258.8 L113.8 257.5 L114.6 257.3 L115.5 257.6 L116.4 255.5 L117.3 257.0 L118.2 257.7 L119.1 257.0 L120.0 257.9 L120.9 257.4 L121.8 258.1 L122.7 257.5 L123.6 258.2 L124.5 257.3 L125.4 257.8 L126.2 258.2 L127.1 257.2 L128.0 259.1 L128.9 258.2 L129.8 256.8 L130.7 254.7 L131.6 254.4 L132.5 254.5 L133.4 254.1 L134.3 255.1 L135.2 254.1 L136.1 254.4 L137.0 254.3 L137.9 256.8 L138.8 255.5 L139.6 254.3 L140.5 253.9 L141.4 254.9 L142.3 254.4 L143.2 254.3 L144.1 255.6 L145.0 254.1 L145.9 254.5 L146.8 255.2 L147.7 254.4 L148.6 253.7 L149.5 254.7 L150.4 254.9 L151.2 254.3 L152.1 255.0 L153.0 253.7 L153.9 254.6 L154.8 253.6 L155.7 253.7 L156.6 254.2 L157.5 254.4 L158.4 253.8 L159.3 254.4 L160.2 254.6 L161.1 253.8 L162.0 254.2 L162.9 254.6 L163.8 254.2 L164.6 254.8 L165.5 253.9 L166.4 253.8 L167.3 253.8 L168.2 254.7 L169.1 255.4 L170.0 253.2 L170.9 253.0 L171.8 255.1 L172.7 253.5 L173.6 254.6 L174.5 252.9 L175.4 252.8 L176.2 253.7 L177.1 253.1 L178.0 254.1 L178.9 252.8 L179.8 253.6 L180.7 254.5 L181.6 253.1 L182.5 252.7 L183.4 252.7 L184.3 254.7 L185.2 253.7 L186.1 252.9 L187.0 254.1 L187.9 255.3 L188.8 254.6 L189.6 253.6 L190.5 253.3 L191.4 254.3 L192.3 254.2 L193.2 254.5 L194.1 254.5 L195.0 254.9 L195.9 253.4 L196.8 253.9 L197.7 255.7 L198.6 256.9 L199.5 255.9 L200.4 253.6 L201.2 254.1 L202.1 255.4 L203.0 255.2 L203.9 255.5 L204.8 256.1 L205.7 257.2 L206.6 254.5 L207.5 255.3 L208.4 254.2 L209.3 254.7 L210.2 255.4 L211.1 255.0 L212.0 254.2 L212.9 253.4 L213.8 254.7 L214.6 255.4 L215.5 255.6 L216.4 254.1 L217.3 257.1 L218.2 254.7 L219.1 254.9 L220.0 256.1 L220.9 254.5 L221.8 255.9 L222.7 257.0 L223.6 255.8 L224.5 255.2 L225.4 257.1 L226.2 256.7 L227.1 257.3 L228.0 256.8 L228.9 254.4 L229.8 254.7 L230.7 254.4 L231.6 255.0 L232.5 255.2 L233.4 255.2 L234.3 254.4 L235.2 255.3 L236.1 254.7 L237.0 253.4 L237.9 254.5 L238.8 254.6 L239.6 255.0 L240.5 255.9 L241.4 255.7 L242.3 255.1 L243.2 255.9 L244.1 254.8 L245.0 255.6 L245.9 255.9 L246.8 254.8 L247.7 255.0 L248.6 256.4 L249.5 256.2 L250.4 257.1 L251.2 256.8 L252.1 255.3 L253.0 255.7 L253.9 255.7 L254.8 256.0 L255.7 256.6 L256.6 255.1 L257.5 253.3 L258.4 255.4 L259.3 255.3 L260.2 254.6 L261.1 255.2 L262.0 254.8 L262.9 254.8 L263.8 254.6 L264.6 255.4 L265.5 255.5 L266.4 255.4 L267.3 257.1 L268.2 254.9 L269.1 254.6 L270.0 256.2 L270.9 255.7 L271.8 254.7 L272.7 256.1 L273.6 257.3 L274.5 255.6 L275.4 256.9 L276.2 256.7 L277.1 255.3 L278.0 254.4 L278.9 255.8 L279.8 256.2 L280.7 254.4 L281.6 254.3 L282.5 254.2 L283.4 256.0 L284.3 255.2 L285.2 254.9 L286.1 254.5 L287.0 254.7 L287.9 254.1 L288.8 257.1 L289.6 257.1 L290.5 255.2 L291.4 254.8 L292.3 254.7 L293.2 254.3 L294.1 253.9 L295.0 254.3 L295.9 254.4 L296.8 254.1 L297.7 254.9 L298.6 254.9 L299.5 254.2 L300.4 255.2 L301.2 254.6 L302.1 255.5 L303.0 255.8 L303.9 254.0 L304.8 256.4 L305.7 255.9 L306.6 255.8 L307.5 255.3 L308.4 254.3 L309.3 253.8 L310.2 256.2 L311.1 256.2 L312.0 254.9 L312.9 254.9 L313.8 255.0 L314.6 256.2 L315.5 254.8 L316.4 255.8 L317.3 253.8 L318.2 254.4 L319.1 254.1 L320.0 254.2 L320.9 254.3 L321.8 255.7 L322.7 255.8 L323.6 254.6 L324.5 254.9 L325.4 255.0 L326.2 255.0 L327.1 254.7 L328.0 255.9 L328.9 254.7 L329.8 254.4 L330.7 253.9 L331.6 255.4 L332.5 253.9 L333.4 254.0 L334.3 254.3 L335.2 255.1 L336.1 253.7 L337.0 254.4 L337.9 253.6 L338.8 254.2 L339.6 254.2 L340.5 253.9 L341.4 254.3 L342.3 253.8 L343.2 254.0 L344.1 253.9 L345.0 255.7 L345.9 255.6 L346.8 255.7 L347.7 253.9 L348.6 254.4 L349.5 254.4 L350.4 255.0 L351.2 254.3 L352.1 254.1 L353.0 254.4 L353.9 256.2 L354.8 254.2 L355.7 255.7 L356.6 255.0 L357.5 254.3 L358.4 254.0 L359.3 254.9 L360.2 255.2 L361.1 253.9 L362.0 254.1 L362.9 255.6 L363.8 253.9 L364.6 255.1 L365.5 254.0 L366.4 254.0 L367.3 256.4 L368.2 255.6 L369.1 255.2 L370.0 254.8 L370.9 254.5 L371.8 254.1 L372.7 253.0 L373.6 254.0 L374.5 254.9 L375.4 255.3 L376.2 254.0 L377.1 255.5 L378.0 254.1 L378.9 255.4 L379.8 254.5 L380.7 255.5 L381.6 256.9 L382.5 255.8 L383.4 254.0 L384.3 254.5 L385.2 255.4 L386.1 254.2 L387.0 253.9 L387.9 254.2 L388.8 255.9 L389.6 254.1 L390.5 254.0 L391.4 255.3 L392.3 256.9 L393.2 254.6 L394.1 256.7 L395.0 256.2 L395.9 255.4 L396.8 254.2 L397.7 257.8 L398.6 254.6 L399.5 256.1 L400.4 254.4 L401.2 254.7 L402.1 254.3 L403.0 254.0 L403.9 254.5 L404.8 254.0 L405.7 255.2 L406.6 255.0 L407.5 255.7 L408.4 255.1 L409.3 254.9 L410.2 255.4 L411.1 255.1 L412.0 254.6 L412.9 254.6 L413.8 254.3 L414.6 254.1 L415.5 256.3 L416.4 254.4 L417.3 254.2 L418.2 253.2 L419.1 254.6 L420.0 255.6 L420.9 254.0 L421.8 254.1 L422.7 255.3 L423.6 254.0 L424.5 254.5 L425.4 254.9 L426.2 254.0 L427.1 254.9 L428.0 255.3 L428.9 255.0 L429.8 254.5 L430.7 254.8 L431.6 256.2 L432.5 256.4 L433.4 255.3 L434.3 257.1 L435.2 254.8 L436.1 254.7 L437.0 255.0 L437.9 254.6 L438.8 255.4 L439.6 254.6 L440.5 255.9 L441.4 254.3 L442.3 254.9 L443.2 254.4 L444.1 254.9 L445.0 254.9 L445.9 256.3 L446.8 255.7 L447.7 255.3 L448.6 255.2 L449.5 255.0 L450.4 256.5 L451.2 254.8 L452.1 254.5 L453.0 254.4 L453.9 255.7 L454.8 254.5 L455.7 255.0 L456.6 254.4 L457.5 254.3 L458.4 254.0 L459.3 254.2 L460.2 255.1 L461.1 254.4 L462.0 255.7 L462.9 255.8 L463.8 254.8 L464.6 254.1 L465.5 254.7 L466.4 254.8 L467.3 254.5 L468.2 254.0 L469.1 254.4 L470.0 254.9 L470.9 254.0 L471.8 254.5 L472.7 255.1 L473.6 257.0 L474.5 255.5 L475.4 253.6 L476.2 255.1 L477.1 256.3 L478.0 254.0 L478.9 253.5 L479.8 254.1 L480.7 255.6 L481.6 256.7 L482.5 256.1 L483.4 254.0 L484.3 256.5 L485.2 255.5 L486.1 254.3 L487.0 256.6 L487.9 255.7 L488.8 254.3 L489.6 254.8 L490.5 254.1 L491.4 254.2 L492.3 254.4 L493.2 256.0 L494.1 254.3 L495.0 254.3 L495.9 255.5 L496.8 255.6 L497.7 255.8 L498.6 256.8 L499.5 256.3 L500.4 256.2 L501.2 255.6 L502.1 256.2 L503.0 256.5 L503.9 257.4 L504.8 255.6 L505.7 257.0 L506.6 256.4 L507.5 256.1 L508.4 257.2 L509.3 256.8 L510.2 256.0 L511.1 256.3 L512.0 256.5 L512.9 255.6 L513.8 255.8 L514.6 256.0 L515.5 255.8 L516.4 256.0 L517.3 255.5 L518.2 255.7 L519.1 257.7 L520.0 259.4 L520.9 257.1 L521.8 255.6 L522.7 258.1 L523.6 256.7 L524.5 256.7 L525.4 255.8 L526.2 256.2 L527.1 255.6 L528.0 256.4 L528.9 256.6 L529.8 256.2 L530.7 256.3 L531.6 258.1 L532.5 255.6 L533.4 256.5 L534.3 257.0 L535.2 256.0 L536.1 258.3 L537.0 259.0 L537.9 257.4 L538.8 255.6 L539.6 256.9 L540.5 256.5 L541.4 256.0 L542.3 255.8 L543.2 257.8 L544.1 259.1 L545.0 257.2 L545.9 256.3 L546.8 256.8 L547.7 257.0 L548.6 255.7 L549.5 256.2 L550.4 257.0 L551.2 256.2 L552.1 256.1 L553.0 257.4 L553.9 255.8 L554.8 256.6 L555.7 256.1 L556.6 256.1 L557.5 257.2 L558.4 256.4 L559.3 257.0 L560.2 256.4 L561.1 256.1 L562.0 256.8 L562.9 256.2 L563.8 257.9 L564.6 256.0 L565.5 256.3 L566.4 257.4 L567.3 256.6 L568.2 256.6 L569.1 257.6 L570.0 256.8 L570.9 255.9 L571.8 257.9 L572.7 257.4 L573.6 258.7 L574.5 257.2 L575.4 256.3 L576.2 256.7 L577.1 256.1 L578.0 255.9 L578.9 256.4 L579.8 258.1 L580.7 258.0 L581.6 257.2 L582.5 256.6 L583.4 257.0 L584.3 256.5 L585.2 256.0 L586.1 255.8 L587.0 258.6 L587.9 256.3 L588.8 256.7 L589.6 257.4 L590.5 257.8 L591.4 258.9 L592.3 256.8 L593.2 257.9 L594.1 256.1 L595.0 256.1 L595.9 257.5 L596.8 256.7 L597.7 256.5 L598.6 255.9 L599.5 256.3 L600.4 256.2 L601.2 257.5 L602.1 256.5 L603.0 256.8 L603.9 257.3 L604.8 257.4 L605.7 257.5 L606.6 256.5 L607.5 255.9 L608.4 256.1 L609.3 257.2 L610.2 258.1 L611.1 256.5 L612.0 256.0 L612.9 256.4 L613.8 256.8 L614.6 255.9 L615.5 257.7 L616.4 258.1 L617.3 256.6 L618.2 257.4 L619.1 256.8 L620.0 256.6 L620.9 257.1 L621.8 256.8 L622.7 256.1 L623.6 257.0 L624.5 256.8 L625.4 258.1 L626.2 257.4 L627.1 257.7 L628.0 258.7 L628.9 257.8 L629.8 260.4 L630.7 258.5 L631.6 258.6 L632.5 259.3 L633.4 259.6 L634.3 258.2 L635.2 259.0 L636.1 258.2 L637.0 258.5 L637.9 258.3 L638.8 259.1 L639.6 259.6 L640.5 259.3 L641.4 259.7 L642.3 259.3 L643.2 259.3 L644.1 258.7 L645.0 259.1 L645.9 260.3 L646.8 259.0 L647.7 260.2 L648.6 258.5 L649.5 259.0 L650.4 259.3 L651.2 260.9 L652.1 259.6 L653.0 259.0 L653.9 258.6 L654.8 259.1 L655.7 261.1 L656.6 261.4 L657.5 261.9 L658.4 259.8 L659.3 259.7 L660.2 260.6 L661.1 259.3 L662.0 259.1 L662.9 258.8 L663.8 260.0 L664.6 259.0 L665.5 260.0 L666.4 260.3 L667.3 258.7 L668.2 259.1 L669.1 258.3 L670.0 258.4 L670.9 259.5 L671.8 259.3 L672.7 259.2 L673.6 257.6 L674.5 258.0 L675.4 257.3 L676.2 257.7 L677.1 258.1 L678.0 258.3 L678.9 257.0 L679.8 258.5 L680.7 259.3 L681.6 257.8 L682.5 257.6 L683.4 258.9 L684.3 259.0 L685.2 258.7 L686.1 257.7 L687.0 257.3 L687.9 259.4 L688.8 257.2 L689.6 258.2 L690.5 257.4 L691.4 256.9 L692.3 257.1 L693.2 258.1 L694.1 257.5 L695.0 257.0 L695.9 257.4 L696.8 258.4 L697.7 257.0 L698.6 257.3 L699.5 257.0 L700.4 257.5 L701.2 258.0 L702.1 256.9 L703.0 259.7 L703.9 259.0 L704.8 257.8 L705.7 257.8 L706.6 257.5 L707.5 257.1 L708.4 257.5 L709.3 256.6 L710.2 257.0 L711.1 257.1 L712.0 257.7 L712.9 258.1 L713.8 257.2 L714.6 259.1 L715.5 257.0 L716.4 258.7 L717.3 257.4 L718.2 256.1 L719.1 257.3 L720.0 257.7 L720.9 258.1 L721.8 257.3 L722.7 259.0 L723.6 259.6 L724.5 257.1 L725.4 258.7 L726.2 259.1 L727.1 257.5 L728.0 259.5 L728.9 260.1 L729.8 258.9 L730.7 258.8 L731.6 258.2 L732.5 258.1 L733.4 257.6 L734.3 258.8 L735.2 257.9 L736.1 259.2 L737.0 258.3 L737.9 258.0 L738.8 259.5 L739.6 257.9 L740.5 257.7 L741.4 258.8 L742.3 258.3 L743.2 258.6 L744.1 259.7 L745.0 258.7 L745.9 257.8 L746.8 258.5 L747.7 258.9 L748.6 258.7 L749.5 258.4 L750.4 259.2 L751.2 257.6 L752.1 258.0 L753.0 258.3 L753.9 261.0 L754.8 259.2 L755.7 258.8 L756.6 257.9 L757.5 258.8 L758.4 259.6 L759.3 257.8 L760.2 258.5 L761.1 258.0 L762.0 257.8 L762.9 258.7 L763.8 259.8 L764.6 260.0 L765.5 260.2 L766.4 259.7 L767.3 260.0 L768.2 259.5 L769.1 260.0 L770.0 259.6 L770.9 261.8 L771.8 259.3 L772.7 260.7 L773.6 259.8 L774.5 258.9 L775.4 259.4 L776.2 260.5 L777.1 258.3 L778.0 258.0 L778.9 257.9 L779.8 258.5 L780.7 261.0 L781.6 261.5 L782.5 260.8 L783.4 259.9 L784.3 258.7 L785.2 260.2 L786.1 262.6 L787.0 263.8 L787.9 262.5 L788.8 261.7 L789.6 260.8 L790.5 260.8 L791.4 260.7 L792.3 262.2 L793.2 261.8 L794.1 261.5 L795.0 259.9 L795.9 259.7 L796.8 261.0 L797.7 259.3 L798.6 257.7 L799.5 259.0 L800.4 257.4 L801.2 257.0 L802.1 258.1 L803.0 256.3 L803.9 257.1 L804.8 256.5 L805.7 256.7 L806.6 256.1 L807.5 255.5 L808.4 255.4 L809.3 255.4 L810.2 256.7 L811.1 255.0 L812.0 253.9 L812.9 255.8 L813.8 253.7 L814.6 255.5 L815.5 255.8 L816.4 253.6 L817.3 253.5 L818.2 254.3 L819.1 255.1 L820.0 253.3 L820.9 255.3 L821.8 253.4 L822.7 254.6 L823.6 254.0 L824.5 253.0 L825.4 253.4 L826.2 254.9 L827.1 253.2 L828.0 253.9 L828.9 253.2 L829.8 254.2 L830.7 255.2 L831.6 255.0 L832.5 254.0 L833.4 254.7 L834.3 255.4 L835.2 254.0 L836.1 253.7 L837.0 254.8 L837.9 253.1 L838.8 253.1 L839.6 253.6 L840.5 252.5 L841.4 251.9 L842.3 251.2 L843.2 250.6 L844.1 249.7 L845.0 249.6 L845.9 248.8 L846.8 247.6 L847.7 248.1 L848.6 246.9 L849.5 247.9 L850.4 245.9 L851.2 245.1 L852.1 246.5 L853.0 245.9 L853.9 244.3 L854.8 244.1 L855.7 245.3 L856.6 245.9 L857.5 242.6 L858.4 243.0 L859.3 240.7 L860.2 239.0 L861.1 238.5 L862.0 238.4 L862.9 240.2 L863.8 238.4 L864.6 238.1 L865.5 239.4 L866.4 237.8 L867.3 237.7 L868.2 237.7 L869.1 238.3 L870.0 237.5 L870.9 237.9 L871.8 237.4 L872.7 237.1 L873.6 237.0 L874.5 237.1 L875.4 239.3 L876.2 238.5 L877.1 239.1 L878.0 237.4 L878.9 238.5 L879.8 238.9 L880.7 236.6 L881.6 236.9 L882.5 236.9 L883.4 237.2 L884.3 237.2 L885.2 238.3 L886.1 237.5 L887.0 237.4 L887.9 237.5 L888.8 237.1 L889.6 237.9 L890.5 238.3 L891.4 239.7 L892.3 238.9 L893.2 236.7 L894.1 236.8 L895.0 238.9 L895.9 238.3 L896.8 238.4 L897.7 238.4 L898.6 237.8 L899.5 237.3 L900.4 238.0 L901.2 237.9 L902.1 238.4 L903.0 239.2 L903.9 238.3 L904.8 238.5 L905.7 238.8 L906.6 240.2 L907.5 239.5 L908.4 239.0 L909.3 238.4 L910.2 239.0 L911.1 239.1 L912.0 239.1 L912.9 238.6 L913.8 239.5 L914.6 238.3 L915.5 239.1 L916.4 238.7 L917.3 238.4 L918.2 238.5 L919.1 238.5 L920.0 238.7 L920.9 238.2 L921.8 239.5 L922.7 238.7 L923.6 239.7 L924.5 240.0 L925.4 238.1 L926.2 239.7 L927.1 240.9 L928.0 240.2 L928.9 238.4 L929.8 238.3 L930.7 238.6 L931.6 238.1 L932.5 238.0 L933.4 240.1 L934.3 237.5 L935.2 238.3 L936.1 239.4 L937.0 239.2 L937.9 238.6 L938.8 239.0 L939.6 239.7 L940.5 238.7 L941.4 238.8 L942.3 237.9 L943.2 238.8 L944.1 239.5 L945.0 239.9 L945.9 239.4 L946.8 238.0 L947.7 239.0 L948.6 238.2 L949.5 239.1 L950.4 241.4 L951.2 238.2 L952.1 238.6 L953.0 239.6 L953.9 239.7 L954.8 238.0 L955.7 238.5 L956.6 238.9 L957.5 239.6 L958.4 238.0 L959.3 239.7 L960.2 238.3 L961.1 238.9 L962.0 239.5 L962.9 239.1 L963.8 239.1 L964.6 240.9 L965.5 239.9 L966.4 239.9 L967.3 238.9 L968.2 238.8 L969.1 238.8 L970.0 239.6" stroke="#000" stroke-width="1" fill="none" shape-rendering="crispEdges"/>
</g>
<g style="will-change:transform">
<text x="65.6" y="430" font-size="16.4" letter-spacing="0.6" text-anchor="end">0</text>
<text x="65.6" y="371" font-size="16.4" letter-spacing="0.6" text-anchor="end">20</text>
<text x="65.6" y="312" font-size="16.4" letter-spacing="0.6" text-anchor="end">40</text>
<text x="65.6" y="254" font-size="16.4" letter-spacing="0.6" text-anchor="end">60</text>
<text x="65.6" y="195" font-size="16.4" letter-spacing="0.6" text-anchor="end">80</text>
<text x="65.6" y="136" font-size="16.4" letter-spacing="0.6" text-anchor="end">100</text>
<text x="65.6" y="78" font-size="16.4" letter-spacing="0.6" text-anchor="end">120</text>
<text x="65.6" y="22" font-size="16.4" letter-spacing="0.6" text-anchor="end">140</text>
<text x="71.0" y="470" font-size="16.4" letter-spacing="1.2" text-anchor="middle">19<tspan dx="-2.9" textLength="20.4" lengthAdjust="spacingAndGlyphs">-</tspan><tspan dx="-4.9">J</tspan>an</text>
<text x="199.6" y="470" font-size="16.4" letter-spacing="1.2" text-anchor="middle">20<tspan dx="-2.9" textLength="20.4" lengthAdjust="spacingAndGlyphs">-</tspan><tspan dx="-4.9">J</tspan>an</text>
<text x="328.1" y="470" font-size="16.4" letter-spacing="1.2" text-anchor="middle">21<tspan dx="-2.9" textLength="20.4" lengthAdjust="spacingAndGlyphs">-</tspan><tspan dx="-4.9">J</tspan>an</text>
<text x="456.7" y="470" font-size="16.4" letter-spacing="1.2" text-anchor="middle">22<tspan dx="-2.9" textLength="20.4" lengthAdjust="spacingAndGlyphs">-</tspan><tspan dx="-4.9">J</tspan>an</text>
<text x="585.3" y="470" font-size="16.4" letter-spacing="1.2" text-anchor="middle">23<tspan dx="-2.9" textLength="20.4" lengthAdjust="spacingAndGlyphs">-</tspan><tspan dx="-4.9">J</tspan>an</text>
<text x="713.9" y="470" font-size="16.4" letter-spacing="1.2" text-anchor="middle">24<tspan dx="-2.9" textLength="20.4" lengthAdjust="spacingAndGlyphs">-</tspan><tspan dx="-4.9">J</tspan>an</text>
<text x="842.4" y="470" font-size="16.4" letter-spacing="1.2" text-anchor="middle">25<tspan dx="-2.9" textLength="20.4" lengthAdjust="spacingAndGlyphs">-</tspan><tspan dx="-4.9">J</tspan>an</text>
<text x="971.0" y="470" font-size="16.4" letter-spacing="1.2" text-anchor="middle">26<tspan dx="-2.9" textLength="20.4" lengthAdjust="spacingAndGlyphs">-</tspan><tspan dx="-4.9">J</tspan>an</text>
<text x="520.7" y="495" font-size="16.4" letter-spacing="0.1" word-spacing="2.9" text-anchor="middle">Date (EST)</text>
<text x="31.6" y="260" font-size="16.4" letter-spacing="-0.4" word-spacing="5.2" text-anchor="middle" transform="rotate(-90 31.6 260)">Depth, cm</text>
<text x="129.5" y="45" font-size="16.4" letter-spacing="0.1" word-spacing="2.26" text-anchor="start">Temperature Profile in the Snow Pack</text>
<text x="130.3" y="70" font-size="13.7" letter-spacing="-0.14" word-spacing="3.5" style="stroke-width:0.38px" text-anchor="start">Jan 19, 2017(2017019) <tspan dx="-1.9" textLength="11" lengthAdjust="spacingAndGlyphs">-</tspan><tspan dx="-0.6"> </tspan>Jan 26, 2017(2017026)</text>
<text x="130" y="95" font-size="12.3" letter-spacing="0.54" word-spacing="0.8" style="stroke-width:0.38px" text-anchor="start">Snow depth : Ultrasonic sensor</text>
<text x="131.2" y="110" font-size="12.3" letter-spacing="0.05" word-spacing="4.3" style="stroke-width:0.38px" text-anchor="start">Temperature: 16 probes at levels from <tspan dx="-0.4" textLength="13" lengthAdjust="spacingAndGlyphs">-</tspan><tspan dx="-1.5">1</tspan>0 cm to 90 cm</text>
<text x="695.2" y="50" font-size="12.3" letter-spacing="0.56" word-spacing="2.0" style="stroke-width:0.38px" text-anchor="start">Temperature (C)</text>
<text x="836.5" y="419.1" font-size="12.3" letter-spacing="0.5" style="stroke-width:0.38px" text-anchor="start">ground level</text>
<text x="601.3" y="80" font-size="10.8" letter-spacing="0.35" style="stroke-width:0.32px" text-anchor="middle"><tspan dx="1.0" textLength="9.8" lengthAdjust="spacingAndGlyphs">-</tspan><tspan dx="-1.0">3</tspan>0</text>
<text x="693.7" y="80" font-size="10.8" letter-spacing="0.35" style="stroke-width:0.32px" text-anchor="middle"><tspan dx="1.0" textLength="9.8" lengthAdjust="spacingAndGlyphs">-</tspan><tspan dx="-1.0">2</tspan>0</text>
<text x="786.1" y="80" font-size="10.8" letter-spacing="0.35" style="stroke-width:0.32px" text-anchor="middle"><tspan dx="1.0" textLength="9.8" lengthAdjust="spacingAndGlyphs">-</tspan><tspan dx="-1.0">1</tspan>0</text>
<text x="880.4" y="80" font-size="10.8" letter-spacing="0.35" style="stroke-width:0.32px" text-anchor="middle">0</text>
</g>
</svg>
</body></html>
